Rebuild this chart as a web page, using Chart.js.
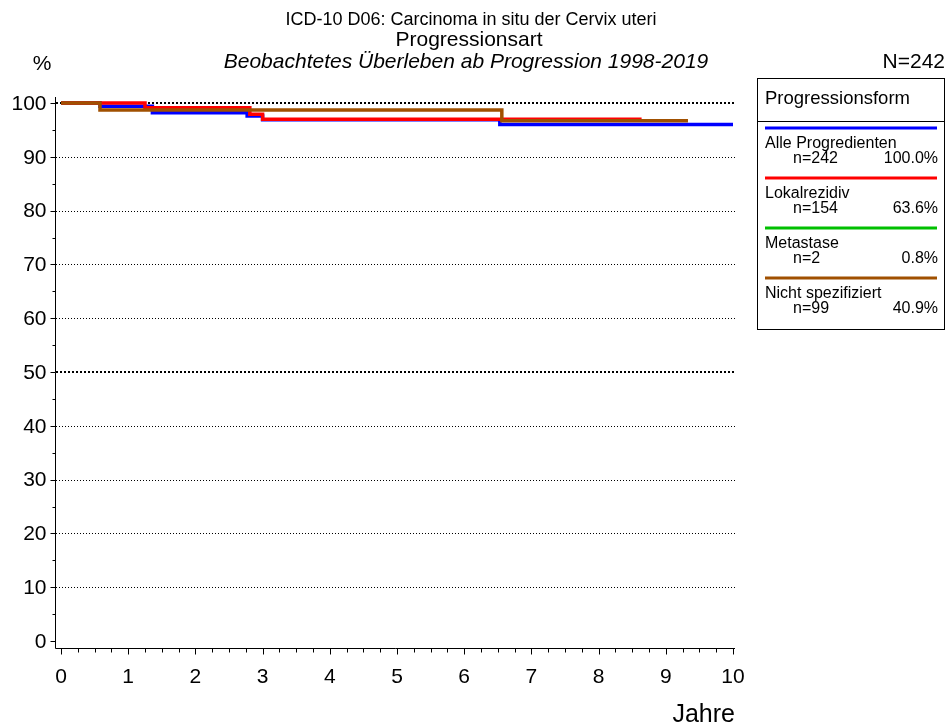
<!DOCTYPE html>
<html>
<head>
<meta charset="utf-8">
<script src="https://cdn.jsdelivr.net/npm/chart.js@4/dist/chart.umd.min.js"></script>
<style>
html,body{margin:0;padding:0;background:#fff;}
canvas{display:block;}
</style>
</head>
<body>
<canvas id="c" width="948" height="728"></canvas>
<script>
// ---- data ----
const seriesNames = ["Alle Progredienten", "Lokalrezidiv", "Metastase", "Nicht spezifiziert"];
const seriesN = ["n=242", "n=154", "n=2", "n=99"];
const seriesPct = ["100.0%", "63.6%", "0.8%", "40.9%"];
const seriesColors = ["#0000ff", "#ff0000", "#00c000", "#a05000"];

const yearsAlle = [0, 0.58, 1.36, 2.77, 3.0, 6.53, 10.0];
const survAlle  = [100, 99.4, 98.2, 97.6, 96.9, 96.0, 96.0];
const yearsLokal = [0, 1.25, 2.81, 3.0, 8.64];
const survLokal  = [100, 99.1, 97.9, 97.0, 97.0];
const yearsMeta = [];
const survMeta  = [];
const yearsNicht = [0, 0.58, 6.56, 9.33];
const survNicht  = [100, 98.7, 96.7, 96.7];

const xTicks = [0,1,2,3,4,5,6,7,8,9,10];
const yTicks = [0,10,20,30,40,50,60,70,80,90,100];

const titleLine1 = "ICD-10 D06: Carcinoma in situ der Cervix uteri";
const titleLine2 = "Progressionsart";
const titleLine3 = "Beobachtetes Überleben ab Progression 1998-2019";
const totalN = "N=242";
const legendTitle = "Progressionsform";

const FONT = "'Liberation Sans', Arial, Helvetica, sans-serif";

function pts(xs, ys){ return xs.map((x,i)=>({x:x, y:ys[i]})); }

const seriesData = [pts(yearsAlle,survAlle), pts(yearsLokal,survLokal), pts(yearsMeta,survMeta), pts(yearsNicht,survNicht)];
const drawOrder = [3, 2, 4, 1];

const datasets = seriesNames.map((n,i)=>({
  label: n,
  data: seriesData[i],
  borderColor: seriesColors[i],
  backgroundColor: seriesColors[i],
  borderWidth: 3.5,
  stepped: true,
  pointRadius: 0,
  fill: false,
  clip: false,
  order: drawOrder[i]
}));

const decor = {
  id: 'decor',
  beforeDatasetsDraw(chart){
    const ctx = chart.ctx, xs = chart.scales.x, ys = chart.scales.y;
    const x0 = xs.getPixelForValue(0) - 5, x1 = xs.getPixelForValue(10) + 2;
    ctx.save();
    ctx.strokeStyle = '#000';
    yTicks.forEach(v=>{
      if (v === 0) return;
      const y = Math.round(ys.getPixelForValue(v));
      const thick = (v % 50 === 0);
      ctx.lineWidth = thick ? 2 : 1;
      ctx.setLineDash(thick ? [2,2] : [1,2]);
      ctx.beginPath();
      ctx.moveTo(x0, thick ? y : y + 0.5);
      ctx.lineTo(x1, thick ? y : y + 0.5);
      ctx.stroke();
    });
    ctx.restore();
  },
  afterDraw(chart){
    const ctx = chart.ctx, xs = chart.scales.x, ys = chart.scales.y;
    ctx.save();
    ctx.strokeStyle = '#000';
    ctx.fillStyle = '#000';
    ctx.setLineDash([]);
    const axX = Math.round(xs.getPixelForValue(0)) - 6 + 0.5;
    const axY = Math.round(ys.getPixelForValue(0)) + 7 + 0.5;
    const topY = Math.round(ys.getPixelForValue(100)) - 6;
    const rightX = Math.round(xs.getPixelForValue(10)) + 2;
    ctx.lineWidth = 1;
    ctx.beginPath();
    ctx.moveTo(axX, topY); ctx.lineTo(axX, axY);
    ctx.moveTo(axX, axY); ctx.lineTo(rightX, axY);
    ctx.stroke();
    // y ticks
    ctx.beginPath();
    for (let v = 0; v <= 100; v += 5){
      const y = Math.round(ys.getPixelForValue(v)) + 0.5;
      const len = (v % 10 === 0) ? 5 : 3;
      ctx.moveTo(axX - len, y); ctx.lineTo(axX, y);
    }
    // x ticks
    for (let k = 0; k <= 40; k++){
      const v = k * 0.25;
      const x = Math.round(xs.getPixelForValue(v)) + 0.5;
      const len = (k % 4 === 0) ? 6 : 4;
      ctx.moveTo(x, axY); ctx.lineTo(x, axY + len);
    }
    ctx.stroke();
    // tick labels
    ctx.font = '21px ' + FONT;
    ctx.textAlign = 'right'; ctx.textBaseline = 'middle';
    yTicks.forEach(v=>{ ctx.fillText(String(v), axX - 9, ys.getPixelForValue(v) + 1); });
    ctx.textAlign = 'center';
    xTicks.forEach(v=>{ ctx.fillText(String(v), xs.getPixelForValue(v), axY + 29); });
    // axis titles
    ctx.font = '25px ' + FONT;
    ctx.textAlign = 'right';
    ctx.fillText('Jahre', rightX, 715);
    ctx.font = '21px ' + FONT;
    ctx.textAlign = 'center';
    ctx.fillText('%', 42, 64);
    ctx.textAlign = 'right';
    ctx.fillText(totalN, 945, 62);
    // titles
    ctx.textAlign = 'center';
    ctx.font = '18px ' + FONT;
    ctx.fillText(titleLine1, 471, 20);
    ctx.font = '21px ' + FONT;
    ctx.fillText(titleLine2, 469, 40);
    ctx.font = 'italic 21px ' + FONT;
    ctx.fillText(titleLine3, 466, 62);
    // legend box
    const bx = 757.5, by = 78.5, bw = 187, bh = 251;
    ctx.lineWidth = 1;
    ctx.strokeRect(bx, by, bw, bh);
    ctx.beginPath(); ctx.moveTo(bx, 121.5); ctx.lineTo(bx + bw, 121.5); ctx.stroke();
    ctx.textAlign = 'left';
    ctx.font = '18.5px ' + FONT;
    ctx.fillText(legendTitle, 765, 99);
    seriesNames.forEach((n,i)=>{
      const base = 128 + i * 50;
      ctx.strokeStyle = seriesColors[i];
      ctx.lineWidth = 3;
      ctx.beginPath(); ctx.moveTo(765, base); ctx.lineTo(937, base); ctx.stroke();
      ctx.fillStyle = '#000';
      ctx.font = '16px ' + FONT;
      ctx.textAlign = 'left';
      ctx.fillText(n, 765, base + 16);
      ctx.fillText(seriesN[i], 793, base + 31);
      ctx.textAlign = 'right';
      ctx.fillText(seriesPct[i], 938, base + 31);
    });
    ctx.restore();
  }
};

new Chart(document.getElementById('c'), {
  type: 'line',
  data: { datasets: datasets },
  options: {
    responsive: false,
    animation: false,
    devicePixelRatio: 1,
    layout: { padding: { left: 61, right: 215, top: 103, bottom: 87 } },
    plugins: { legend: { display: false }, tooltip: { enabled: false }, title: { display: false } },
    scales: {
      x: { type: 'linear', min: 0, max: 10, display: false },
      y: { type: 'linear', min: 0, max: 100, display: false }
    }
  },
  plugins: [decor]
});
</script>
</body>
</html>
